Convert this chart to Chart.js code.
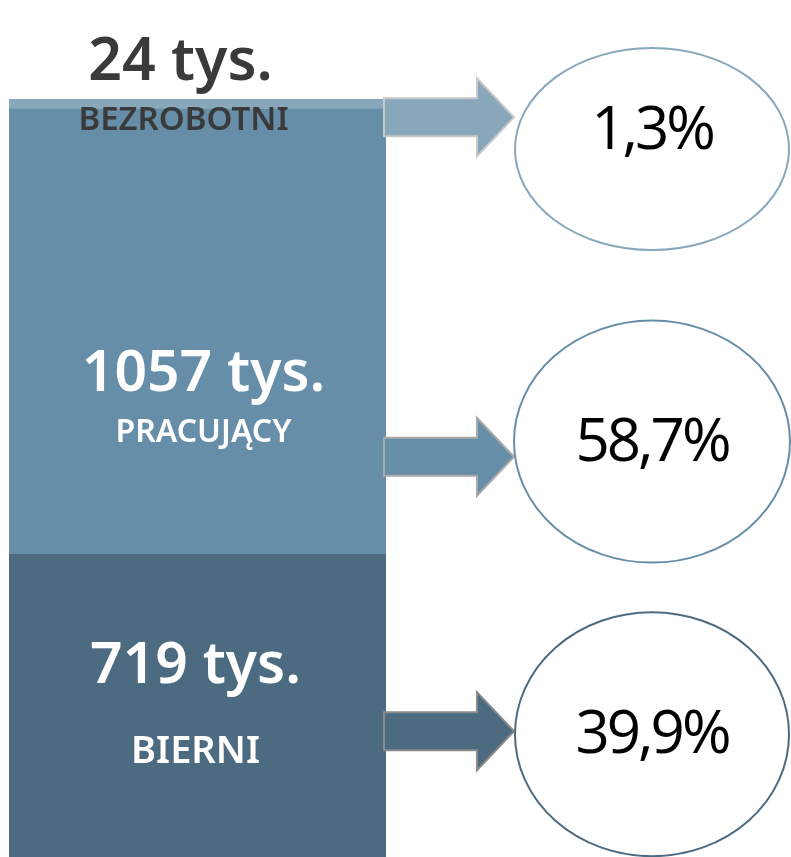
<!DOCTYPE html>
<html lang="pl">
<head>
    <meta charset="UTF-8">
    <title>Aktywność ekonomiczna</title>
    <script src="https://cdn.jsdelivr.net/npm/chart.js"></script>
    <style>
        html, body {
            margin: 0;
            padding: 0;
            background: #fff;
        }

        .chart-box {
            width: 791px;
            height: 857px;
        }
    </style>
</head>
<body>

    <div class="chart-box">
        <canvas id="chart"></canvas>
    </div>

    <script>
        // Data (tys. osób), from top of the bar to bottom
        const groups = ['BEZROBOTNI', 'PRACUJĄCY', 'BIERNI'];
        const values = [24, 1057, 719];
        const unit = 'tys.';

        const fills = ['#88a7bb', '#678ea8', '#4d6b80'];
        const arrowStrokes = ['#c8c8c8', '#a9a9a9', '#8a8a8a'];
        const labelColors = ['#3a3a3a', '#ffffff', '#ffffff'];

        const total = values.reduce((a, b) => a + b, 0);
        const shares = values.map(v => (v / total * 100).toFixed(1).replace('.', ',') + '%');

        // Stack from the bottom up
        const datasets = groups.map((g, i) => ({
            label: g,
            data: [values[i]],
            backgroundColor: fills[i],
            borderWidth: 0,
            barPercentage: 1,
            categoryPercentage: 1
        })).reverse();

        // Labels, arrows and ellipses drawn next to the bar
        const sidePlugin = {
            id: 'side',
            afterDatasetsDraw(chart) {
                const ctx = chart.ctx;
                const area = chart.chartArea;
                const h = area.bottom - area.top;
                const cx = (area.left + area.right) / 2 + 6;

                const segs = groups.map((g, i) => chart.getDatasetMeta(groups.length - 1 - i).data[0]);

                ctx.save();
                ctx.textAlign = 'center';
                ctx.textBaseline = 'middle';

                // bezrobotni: value sits above the bar
                const top = segs[0];
                ctx.fillStyle = labelColors[0];
                ctx.font = "600 59px 'Noto Sans'";
                ctx.fillText(values[0] + ' ' + unit, cx - 23, top.y - 36);
                ctx.font = "600 33px 'Noto Sans'";
                ctx.fillText(groups[0], cx - 20, top.y + 22);

                // pracujący
                const mid = segs[1];
                ctx.fillStyle = labelColors[1];
                ctx.font = "600 57px 'Noto Sans'";
                ctx.fillText(values[1] + ' ' + unit, cx, mid.y + 266);
                ctx.font = "600 32px 'Noto Sans'";
                ctx.fillText(groups[1], cx, mid.y + 324);

                // bierni
                const bot = segs[2];
                ctx.fillStyle = labelColors[2];
                ctx.font = "600 57px 'Noto Sans'";
                ctx.fillText(values[2] + ' ' + unit, cx - 8, bot.y + 113);
                ctx.font = "600 38px 'Noto Sans'";
                ctx.fillText(groups[2], cx - 8, bot.y + 198);

                // arrows + ellipses
                const arrowY = [area.top + 0.024 * h, area.top + 0.472 * h, area.top + 0.834 * h];
                const ellY = [area.top + 0.066 * h, area.top + 0.452 * h, area.top + 0.838 * h];
                const ellR = [[137, 101], [138, 121], [137, 122]];
                const x0 = area.right - 2;
                const xNeck = area.right + 91;
                const xTip = area.right + 128;
                const ex = area.right + 266;

                for (let i = 0; i < groups.length; i++) {
                    const y = arrowY[i];
                    ctx.beginPath();
                    ctx.moveTo(x0, y - 19);
                    ctx.lineTo(xNeck, y - 19);
                    ctx.lineTo(xNeck, y - 39);
                    ctx.lineTo(xTip, y);
                    ctx.lineTo(xNeck, y + 39);
                    ctx.lineTo(xNeck, y + 19);
                    ctx.lineTo(x0, y + 19);
                    ctx.closePath();
                    ctx.fillStyle = fills[i];
                    ctx.fill();
                    ctx.lineWidth = 2;
                    ctx.strokeStyle = arrowStrokes[i];
                    ctx.stroke();

                    ctx.beginPath();
                    ctx.ellipse(ex, ellY[i], ellR[i][0], ellR[i][1], 0, 0, Math.PI * 2);
                    ctx.fillStyle = '#ffffff';
                    ctx.fill();
                    ctx.lineWidth = 2;
                    ctx.strokeStyle = fills[i];
                    ctx.stroke();

                    ctx.fillStyle = '#000000';
                    ctx.font = "400 60px 'Open Sans'";
                    ctx.letterSpacing = '-3px';
                    const ty = i === 0 ? ellY[i] - 17 : ellY[i] + 2;
                    ctx.fillText(shares[i], ex, ty);
                    ctx.letterSpacing = '0px';
                }
                ctx.restore();
            }
        };

        const ctx = document.getElementById('chart').getContext('2d');
        const chart = new Chart(ctx, {
            type: 'bar',
            data: {
                labels: [''],
                datasets: datasets
            },
            options: {
                responsive: true,
                maintainAspectRatio: false,
                animation: false,
                layout: {
                    padding: { top: 99, bottom: 0, left: 9, right: 405 }
                },
                scales: {
                    x: { stacked: true, display: false },
                    y: { stacked: true, display: false, min: 0, max: total }
                },
                plugins: {
                    legend: { display: false },
                    tooltip: { enabled: false }
                }
            },
            plugins: [sidePlugin]
        });
    </script>
</body>
</html>
